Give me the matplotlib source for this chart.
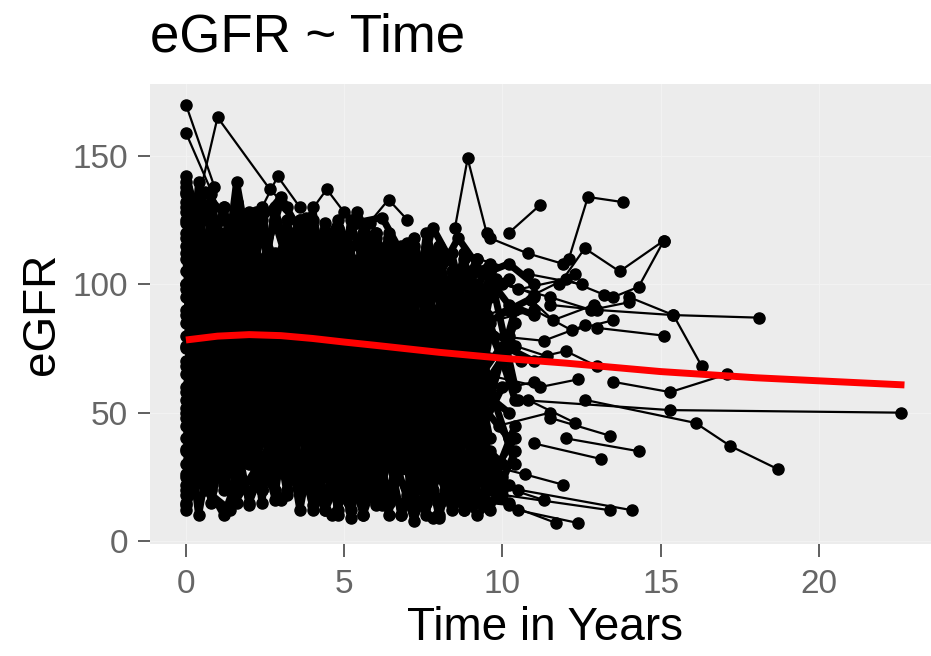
import matplotlib.pyplot as plt

# --- data ---
# visit grids for the dense cohort (years)
visits_a = [0, 0.8, 1.6, 2.4, 3.2, 4.0, 4.8, 5.6, 6.4, 7.2, 8.0, 8.8, 9.6, 10.4]
visits_b = [0, 0.4, 1.2, 2.0, 2.8, 3.6, 4.4, 5.2, 6.0, 6.8, 7.6, 8.4, 9.2, 10.0]
visits_c = [0, 0.6, 1.4, 2.2, 3.0, 3.8, 4.6, 5.4, 6.2, 7.0, 7.8, 8.6, 9.4, 10.2, 11.0]

# eGFR per patient, cohort A (visits_a)
egfr_a = [
    [140, 60, 125, 40, 118, 55, 120, 35, 115, 50, 110, 45, 105, 60],
    [125, 30, 110, 20, 100, 25, 95, 15, 90, 20, 85, 25, 80],
    [100, 135, 70, 130, 65, 125, 60, 120, 70, 118, 75, 112],
    [80, 20, 90, 15, 85, 12, 80, 10, 75, 12, 70, 15, 60, 30],
    [60, 110, 30, 105, 25, 100, 30, 108, 35, 95, 30, 90, 40],
    [35, 95, 15, 90, 20, 85, 10, 80, 15, 75, 10, 70, 20, 45],
    [115, 75, 132, 70, 125, 80, 122, 65, 118, 60, 112, 70, 100],
    [20, 70, 25, 75, 18, 65, 12, 60, 10, 55, 9, 50, 12, 35],
    [90, 50, 100, 45, 95, 40, 100, 50, 92, 45, 88, 40, 85, 55],
    [130, 100, 128, 95, 120, 105, 125, 100, 118, 95, 115, 100, 108],
    [45, 130, 50, 125, 45, 120, 40, 118, 45, 115, 50, 105, 55, 90],
    [70, 15, 60, 20, 50, 14, 45, 10, 40, 8, 35, 12, 30],
    [105, 85, 60, 110, 85, 55, 105, 80, 50, 100, 75, 45, 95],
    [25, 40, 75, 30, 60, 90, 35, 55, 85, 30, 50, 80, 25, 40],
    [135, 110, 80, 120, 95, 70, 115, 90, 65, 110, 85, 60, 105],
    [55, 35, 25, 50, 30, 20, 45, 28, 15, 40, 25, 12, 35],
    [15, 50, 100, 20, 60, 110, 25, 65, 105, 20, 55, 95, 30],
    [120, 60, 140, 85, 40, 130, 70, 35, 120, 65, 30, 110, 60, 85],
]

# eGFR per patient, cohort B (visits_b)
egfr_b = [
    [128, 45, 120, 30, 112, 40, 108, 28, 104, 35, 100, 30, 95, 70],
    [18, 90, 22, 95, 16, 88, 12, 82, 14, 78, 10, 72, 18],
    [95, 120, 55, 128, 60, 118, 50, 115, 55, 110, 60, 105, 65],
    [50, 10, 65, 14, 70, 12, 65, 9, 60, 10, 55, 14, 40, 25],
    [138, 90, 130, 85, 125, 92, 124, 80, 120, 85, 112, 78, 100],
    [75, 120, 35, 118, 30, 112, 25, 110, 30, 105, 35, 98, 45],
    [40, 75, 110, 50, 80, 115, 45, 78, 108, 40, 70, 100, 50],
    [110, 25, 70, 100, 20, 65, 95, 18, 60, 90, 15, 55, 80],
    [65, 100, 130, 70, 105, 125, 65, 100, 120, 60, 95, 112, 70],
    [30, 60, 20, 55, 85, 25, 50, 80, 20, 45, 75, 18, 40, 60],
    [85, 140, 100, 60, 130, 95, 55, 125, 90, 50, 120, 85, 48],
    [12, 35, 55, 15, 40, 60, 12, 35, 55, 10, 30, 50, 15],
    [118, 70, 30, 90, 50, 20, 85, 45, 15, 80, 40, 12, 70],
    [58, 82, 105, 40, 65, 95, 30, 60, 90, 28, 55, 85, 25],
    [100, 55, 85, 115, 70, 100, 120, 75, 95, 115, 70, 90, 110],
    [22, 105, 45, 125, 55, 20, 100, 40, 118, 50, 15, 95, 35],
    [132, 115, 75, 45, 90, 125, 80, 45, 20, 70, 110, 75, 40, 30],
    [48, 28, 10, 38, 75, 60, 30, 12, 45, 85, 60, 25, 10, 20],
]

# eGFR per patient, cohort C (visits_c)
egfr_c = [
    [142, 118, 96, 128, 104, 82, 120, 98, 76, 112, 90, 70, 105, 92, 88],
    [88, 62, 38, 70, 48, 26, 66, 42, 22, 60, 36, 18, 52, 40],
    [26, 48, 72, 94, 58, 36, 80, 102, 64, 40, 85, 98, 60, 75, 70],
    [112, 136, 124, 100, 132, 118, 92, 128, 110, 86, 122, 104, 98, 102],
    [68, 42, 20, 46, 72, 50, 24, 48, 74, 46, 20, 44, 30],
    [14, 26, 44, 30, 16, 34, 52, 30, 14, 32, 48, 26, 18, 22],
    [124, 96, 66, 44, 70, 98, 120, 88, 60, 40, 66, 92, 84, 90, 95],
    [52, 84, 116, 90, 60, 88, 114, 86, 56, 84, 108, 80, 66, 80],
    [98, 74, 50, 32, 56, 78, 100, 72, 48, 28, 54, 76, 58, 50],
    [36, 20, 12, 28, 42, 22, 10, 24, 38, 18, 9, 22, 16, 15],
    [136, 128, 110, 122, 134, 116, 104, 124, 126, 108, 100, 118, 104, 108, 100],
    [76, 108, 88, 64, 96, 122, 82, 58, 94, 116, 76, 54, 82, 78],
]

# patients that stand out at the edges of the cloud
edge_times = [
    [0, 0.9], [0, 1.2], [0.3, 1.0, 2.65, 3.2],
    [2.2, 2.9, 3.6], [3.8, 4.45, 5.0], [5.8, 6.4, 7.0],
    [8.5, 8.9, 9.5], [10.2, 11.2],
    [12.1, 12.7, 13.8], [11.8, 12.6, 13.7, 15.1], [13.5, 14.3, 15.1],
    [11.5, 13.0, 15.4, 18.1], [14.0, 15.4, 16.3], [13.5, 15.3, 17.1],
    [13.0, 15.1], [10.5, 15.3, 22.6], [12.6, 16.1, 17.2, 18.7],
    [10.8, 12.3], [11.5, 13.4], [12.0, 14.3], [11.0, 13.1],
    [10.5, 14.1], [10.0, 13.4], [10.5, 12.4], [10.2, 11.7],
    [9.0, 10.5, 12.0, 13.2], [8.5, 10.0, 11.5, 12.8, 14.0],
    [9.5, 11.0, 12.2, 13.5], [9.2, 10.8, 12.5],
    [9.0, 10.6, 12.0, 13.0], [9.4, 11.2, 12.4],
    [9.6, 10.8, 11.9], [9.8, 11.0, 12.3], [9.5, 10.9, 11.6, 12.9],
    [9.7, 11.3, 12.6], [9.3, 10.4, 11.4], [9.6, 11.0], [9.9, 11.5],
    [9.4, 10.7, 11.9], [9.8, 11.3],
]
edge_egfr = [
    [170, 138], [159, 125], [128, 165, 137, 130],
    [125, 142, 130], [126, 137, 128], [124, 133, 125],
    [122, 149, 120], [120, 131],
    [110, 134, 132], [100, 114, 105, 117], [95, 99, 117],
    [92, 90, 88, 87], [95, 88, 68], [62, 58, 65],
    [83, 80], [55, 51, 50], [55, 46, 37, 28],
    [55, 46], [48, 41], [40, 35], [38, 32],
    [20, 12], [18, 12], [12, 7], [14, 7],
    [105, 98, 102, 96], [92, 100, 95, 90, 93],
    [85, 90, 82, 86], [110, 104, 100],
    [75, 70, 74, 68], [65, 60, 63],
    [118, 112, 108], [102, 96, 104], [88, 94, 86, 92],
    [80, 78, 84], [70, 76, 72], [58, 62], [45, 50],
    [30, 26, 22], [22, 16],
]

# smoothed trend (red)
trend_t = [0, 1, 2, 3, 4, 5, 6, 8, 10, 12, 15, 18, 20, 22.7]
trend_y = [78.3, 79.8, 80.4, 80.0, 78.9, 77.5, 76.2, 73.5, 71.2, 69.3, 66.0, 63.6, 62.4, 60.8]

# --- figure ---
fig = plt.figure(figsize=(9.31, 6.56), dpi=100)
ax = fig.add_axes([0.1611, 0.1707, 0.849, 0.7013])
ax.set_facecolor('#ececec')

for visits, group in [(visits_a, egfr_a), (visits_b, egfr_b), (visits_c, egfr_c)]:
    for vals in group:
        ax.plot(visits[:len(vals)], vals, color='black', lw=5,
                marker='o', ms=8, solid_joinstyle='round')
for t, v in zip(edge_times, edge_egfr):
    ax.plot(t, v, color='black', lw=1.6, marker='o', ms=8)

ax.plot(trend_t, trend_y, color='red', lw=5, solid_capstyle='butt')

ax.set_xlim(-1.135, 23.835)
ax.set_ylim(-1.15, 178)
ax.set_xticks([0, 5, 10, 15, 20])
ax.set_yticks([0, 50, 100, 150])
ax.grid(True, color='#f2f2f2', lw=0.8)
ax.set_axisbelow(True)
for s in ax.spines.values():
    s.set_visible(False)

ax.tick_params(length=9, width=1.2, color='#444444', labelcolor='#666666',
               labelsize=24)
ax.tick_params(axis='y', pad=7)
ax.tick_params(axis='x', pad=9)
for lab in ax.get_xticklabels() + ax.get_yticklabels():
    lab.set_family('Liberation Sans')

ax.set_xlabel('Time in Years', fontsize=33, family='Liberation Sans', labelpad=4)
ax.set_ylabel('eGFR', fontsize=33, family='Liberation Sans', labelpad=6)
fig.text(0.161, 0.921, 'eGFR ~ Time', fontsize=38, family='Liberation Sans',
         ha='left', va='baseline')

fig.savefig('out.png', dpi=100)
